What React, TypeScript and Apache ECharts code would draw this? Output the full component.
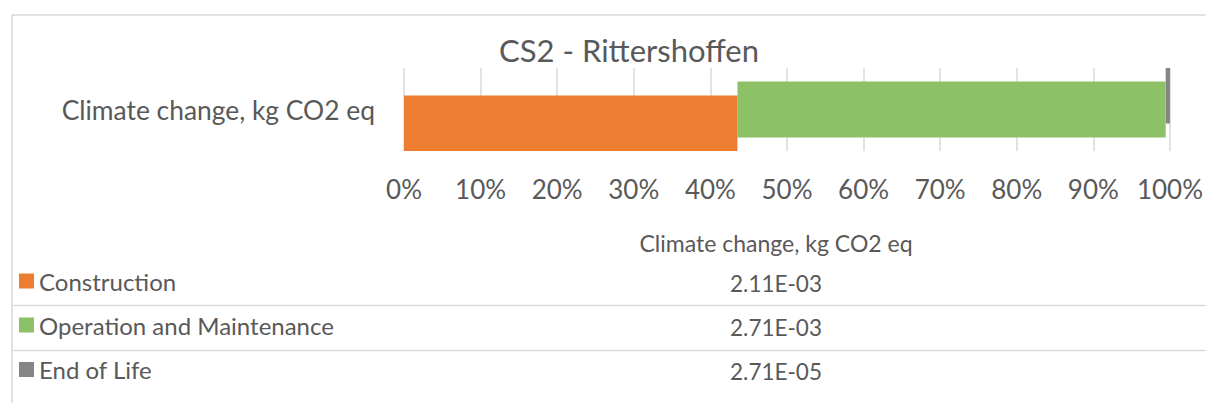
import React, { useEffect, useRef } from "react";
import * as echarts from "echarts";

const title = "CS2 - Rittershoffen";
const category = "Climate change, kg CO2 eq";
const stages = ["Construction", "Operation and Maintenance", "End of Life"];
const values = [2.11e-3, 2.71e-3, 2.71e-5];
const colors = ["#ED7D31", "#8CC168", "#858585"];
const tickValues = [0, 10, 20, 30, 40, 50, 60, 70, 80, 90, 100];

const FONT = "Lato";
const TXT = "#595959";
const LINE = "#D9D9D9";

function fmtExp(v: number): string {
  const e = Math.floor(Math.log10(Math.abs(v)));
  const m = v / Math.pow(10, e);
  const sign = e < 0 ? "-" : "+";
  const ee = Math.abs(e).toString().padStart(2, "0");
  return m.toFixed(2) + "E" + sign + ee;
}

export default function App() {
  const ref = useRef<HTMLDivElement>(null);
  useEffect(() => {
    if (!ref.current) return;
    const chart = echarts.init(ref.current, null, { renderer: "svg" });
    const total = values.reduce((a, b) => a + b, 0);
    const pct = values.map((v) => (v / total) * 100);
    const cum = [0, pct[0], pct[0] + pct[1]];

    const series: any[] = [];
    // later stages first so that the first stage sits lowest
    for (let i = stages.length - 1; i >= 0; i--) {
      const stackId = "s" + i;
      if (i > 0) {
        series.push({
          type: "bar",
          name: "_base" + i,
          stack: stackId,
          data: [cum[i]],
          barWidth: 56,
          barGap: "-75%",
          itemStyle: { color: "transparent" },
          silent: true,
          tooltip: { show: false },
        });
      }
      series.push({
        type: "bar",
        name: stages[i],
        stack: stackId,
        data: [pct[i]],
        barWidth: 56,
        barGap: "-75%",
        itemStyle: { color: colors[i] },
      });
    }

    const rowY = [283, 327, 371.5];
    const graphics: any[] = [
      { type: "line", shape: { x1: 12, y1: 15, x2: 1206, y2: 15 }, style: { stroke: LINE, lineWidth: 1.5 } },
      { type: "line", shape: { x1: 12, y1: 15, x2: 12, y2: 403 }, style: { stroke: LINE, lineWidth: 1.5 } },
      { type: "line", shape: { x1: 12, y1: 305.5, x2: 1206, y2: 305.5 }, style: { stroke: LINE, lineWidth: 1.5 } },
      { type: "line", shape: { x1: 12, y1: 350.5, x2: 1206, y2: 350.5 }, style: { stroke: LINE, lineWidth: 1.5 } },
      {
        type: "text",
        x: 776,
        y: 243,
        style: { text: category, font: `23px ${FONT}`, fill: TXT, align: "center", verticalAlign: "middle" },
      },
    ];
    values.forEach((v, i) => {
      graphics.push({
        type: "text",
        x: 776,
        y: rowY[i],
        style: { text: fmtExp(v), font: `22.5px ${FONT}`, fill: TXT, align: "center", verticalAlign: "middle" },
      });
    });

    const legends = stages.map((s, i) => ({
      data: [s],
      orient: "vertical",
      left: 19,
      top: rowY[i] - 14,
      padding: 0,
      icon: "rect",
      itemWidth: 15,
      itemHeight: 15,
      selectedMode: false,
      textStyle: { fontFamily: FONT, fontSize: 24, color: TXT, lineHeight: 20, padding: [0, 0, 0, 0] },
    }));

    chart.setOption({
      animation: false,
      title: {
        text: title,
        left: 624,
        top: 29,
        textAlign: "center",
        textStyle: { fontFamily: FONT, fontSize: 31, fontWeight: "normal", color: TXT },
      },
      legend: legends,
      grid: { left: 404, right: 36, top: 68, height: 83 },
      xAxis: {
        type: "value",
        min: 0,
        max: 100,
        interval: 10,
        axisLine: { show: false },
        axisTick: { show: false },
        axisLabel: {
          margin: 25,
          fontFamily: FONT,
          fontSize: 26,
          color: TXT,
          formatter: (v: number) => (tickValues.includes(v) ? v + "%" : ""),
        },
        splitLine: { lineStyle: { color: LINE, width: 1.5 } },
      },
      yAxis: {
        type: "category",
        data: [category],
        axisLine: { show: false },
        axisTick: { show: false },
        axisLabel: { margin: 29, fontFamily: FONT, fontSize: 26.4, color: TXT },
      },
      series,
      graphic: graphics,
    });
    return () => chart.dispose();
  }, []);
  return (
    <div
      ref={ref}
      style={{ position: "fixed", left: 0, top: 0, width: 1206, height: 403, background: "#fff" }}
    />
  );
}
